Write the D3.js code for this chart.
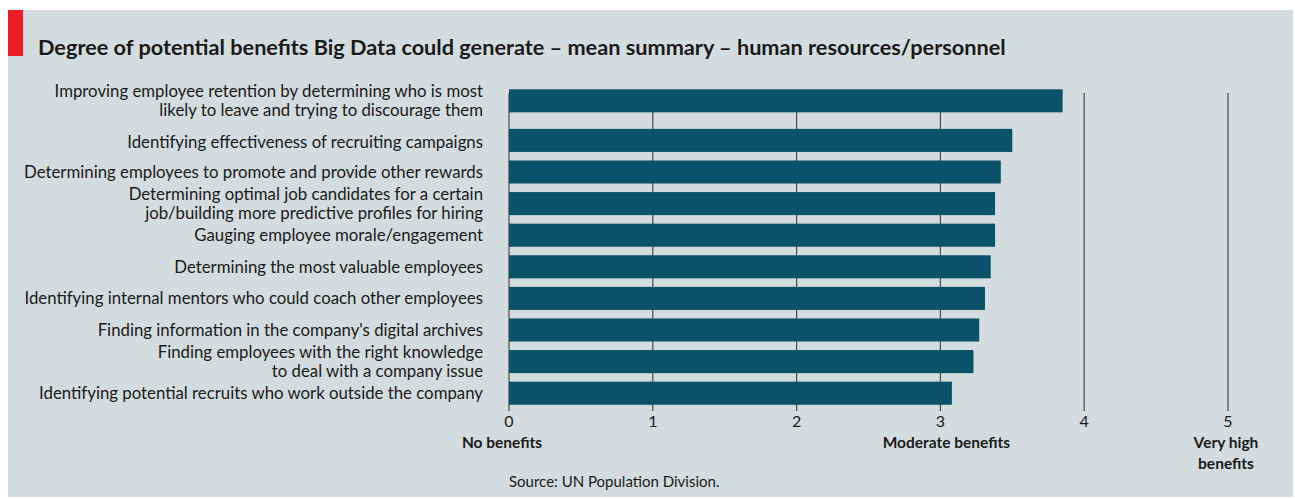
<!DOCTYPE html>
<html>
<head>
<meta charset="utf-8">
<script src="https://cdn.jsdelivr.net/npm/d3@7"></script>
<style>
  body { margin: 0; background: #fff; }
  svg { display: block; }
  text { font-family: Lato, "Open Sans", sans-serif; fill: #1a1a1a; }
</style>
</head>
<body>
<svg width="1295" height="499"></svg>
<script>
var categories = [
  ["Improving employee retention by determining who is most", "likely to leave and trying to discourage them"],
  ["Identifying effectiveness of recruiting campaigns"],
  ["Determining employees to promote and provide other rewards"],
  ["Determining optimal job candidates for a certain", "job/building more predictive profiles for hiring"],
  ["Gauging employee morale/engagement"],
  ["Determining the most valuable employees"],
  ["Identifying internal mentors who could coach other employees"],
  ["Finding information in the company's digital archives"],
  ["Finding employees with the right knowledge", "to deal with a company issue"],
  ["Identifying potential recruits who work outside the company"]
];
var values = [3.85, 3.50, 3.42, 3.38, 3.38, 3.35, 3.31, 3.27, 3.23, 3.08];
var ticks = [0, 1, 2, 3, 4, 5];
var scaleLabels = [
  {v: 0, lines: ["No benefits"]},
  {v: 3, lines: ["Moderate benefits"]},
  {v: 5, lines: ["Very high", "benefits"]}
];
var title = "Degree of potential benefits Big Data could generate \u2013 mean summary \u2013 human resources/personnel";
var source = "Source: UN Population Division.";

var svg = d3.select("svg"),
    width = +svg.attr("width"),
    height = +svg.attr("height");

// panel
svg.append("rect").attr("x", 8).attr("y", 10).attr("width", 1285).attr("height", 487).attr("fill", "#d3dcde");
svg.append("rect").attr("x", 8).attr("y", 10).attr("width", 15).attr("height", 46).attr("fill", "#ee1c25");

svg.append("text")
    .attr("x", 38).attr("y", 55)
    .attr("font-size", 21.7)
    .attr("font-weight", "bold")
    .attr("fill", "#111")
    .text(title);

var x = d3.scaleLinear().domain([0, 5]).range([509, 1228]);

var ids = categories.map(function(d, i) { return "c" + i; });
var y = d3.scaleBand().domain(ids).range([93, 409]).paddingInner(0.27).paddingOuter(0.135);

// first bar sits a little higher (two-line label)
var yPos = function(i) { return y(ids[i]) - (i === 0 ? 8 : 0); };

// grid lines
svg.append("g")
  .selectAll("line")
  .data(ticks)
  .enter().append("line")
    .attr("x1", function(d) { return x(d); })
    .attr("x2", function(d) { return x(d); })
    .attr("y1", 93)
    .attr("y2", 411)
    .attr("stroke", "#4a4a4a")
    .attr("stroke-width", 1.2);

svg.append("g")
  .selectAll("rect")
  .data(values)
  .enter().append("rect")
    .attr("x", x(0))
    .attr("y", function(d, i) { return yPos(i); })
    .attr("width", function(d) { return x(d) - x(0); })
    .attr("height", y.bandwidth())
    .attr("fill", "#0a5269");

// category labels
var lineH = 19;
var lab = svg.append("g").selectAll("text")
  .data(categories)
  .enter().append("text")
    .attr("text-anchor", "end")
    .attr("font-size", 16.8)
    .attr("fill", "#111");

lab.each(function(lines, i) {
  var cy = yPos(i) + y.bandwidth() / 2 + (i === 1 ? 2 : 0);
  var top = cy - (lines.length - 1) * lineH / 2;
  d3.select(this).selectAll("tspan")
    .data(lines)
    .enter().append("tspan")
      .attr("x", 483)
      .attr("y", function(l, j) { return top + j * lineH; })
      .attr("dy", "0.35em")
      .text(function(l) { return l; });
});

// tick labels
svg.append("g").selectAll("text")
  .data(ticks)
  .enter().append("text")
    .attr("x", function(d) { return x(d); })
    .attr("y", 427)
    .attr("text-anchor", "middle")
    .attr("font-size", 16)
    .text(function(d) { return d; });

var sl = svg.append("g").selectAll("text")
  .data(scaleLabels)
  .enter().append("text")
    .attr("text-anchor", "middle")
    .attr("font-size", 15.5)
    .attr("font-weight", "bold")
    .attr("fill", "#111");

sl.each(function(d) {
  d3.select(this).selectAll("tspan")
    .data(d.lines)
    .enter().append("tspan")
      .attr("x", x(d.v) - (d.v === 0 ? 7 : d.v === 3 ? -6 : 2))
      .attr("y", function(l, j) { return 448 + j * 21; })
      .text(function(l) { return l; });
});

svg.append("text")
    .attr("x", 509).attr("y", 487)
    .attr("font-size", 15)
    .text(source);
</script>
</body>
</html>
